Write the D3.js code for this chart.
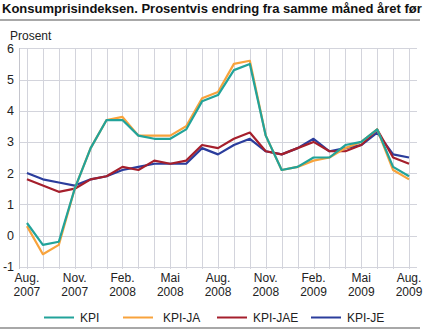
<!DOCTYPE html>
<html>
<head>
<meta charset="utf-8">
<script src="https://cdn.jsdelivr.net/npm/d3@7"></script>
<style>
  html, body { margin: 0; padding: 0; background: #fff; }
  svg { display: block; font-family: "Liberation Sans", Arial, sans-serif; }
</style>
</head>
<body>
<svg id="chart" width="426" height="330"></svg>
<script>
// Monthly 12-month change, Aug 2007 - Aug 2009
var months = ["2007-08", "2007-09", "2007-10", "2007-11", "2007-12",
  "2008-01", "2008-02", "2008-03", "2008-04", "2008-05", "2008-06", "2008-07",
  "2008-08", "2008-09", "2008-10", "2008-11", "2008-12",
  "2009-01", "2009-02", "2009-03", "2009-04", "2009-05", "2009-06", "2009-07", "2009-08"];

var kpi    = [0.4, -0.3, -0.2, 1.5, 2.8, 3.7, 3.7, 3.2, 3.1, 3.1, 3.4, 4.3, 4.5, 5.3, 5.5, 3.2, 2.1, 2.2, 2.5, 2.5, 2.9, 3.0, 3.4, 2.2, 1.9];
var kpiJA  = [0.3, -0.6, -0.3, 1.5, 2.8, 3.7, 3.8, 3.2, 3.2, 3.2, 3.5, 4.4, 4.6, 5.5, 5.6, 3.2, 2.1, 2.2, 2.4, 2.5, 2.8, 3.0, 3.4, 2.1, 1.8];
var kpiJAE = [1.8, 1.6, 1.4, 1.5, 1.8, 1.9, 2.2, 2.1, 2.4, 2.3, 2.4, 2.9, 2.8, 3.1, 3.3, 2.7, 2.6, 2.8, 3.0, 2.7, 2.7, 2.9, 3.4, 2.5, 2.3];
var kpiJE  = [2.0, 1.8, 1.7, 1.6, 1.8, 1.9, 2.1, 2.2, 2.3, 2.3, 2.3, 2.8, 2.6, 2.9, 3.1, 2.7, 2.6, 2.8, 3.1, 2.7, 2.8, 2.9, 3.3, 2.6, 2.5];

var seriesNames = ["KPI", "KPI-JA", "KPI-JAE", "KPI-JE"];
var seriesColors = ["#22a39a", "#f8a33c", "#a51f2c", "#2b3d9c"];
var seriesValues = [kpi, kpiJA, kpiJAE, kpiJE];

var yTicks = [-1, 0, 1, 2, 3, 4, 5, 6];
var xLabelIdx = [0, 3, 6, 9, 12, 15, 18, 21, 24];
var xLabels = [["Aug.", "2007"], ["Nov.", "2007"], ["Feb.", "2008"], ["Mai", "2008"],
  ["Aug.", "2008"], ["Nov.", "2008"], ["Feb.", "2009"], ["Mai", "2009"], ["Aug.", "2009"]];

var svg = d3.select("#chart");
var plotLeft = 19, plotRight = 417, plotTop = 48.3, plotBottom = 266.7;

var x = d3.scalePoint().domain(d3.range(months.length)).range([plotLeft, plotRight]).padding(0.5);
var y = d3.scaleLinear().domain([-1, 6]).range([plotBottom, plotTop]);

// title and rules
svg.append("text")
  .attr("x", 2).attr("y", 13)
  .attr("font-size", "13px").attr("font-weight", "bold").attr("fill", "#111")
  .text("Konsumprisindeksen. Prosentvis endring fra samme måned året før");
svg.append("rect").attr("x", 0).attr("y", 19).attr("width", 420).attr("height", 2).attr("fill", "#a8a8a8");
svg.append("rect").attr("x", 0).attr("y", 327).attr("width", 420).attr("height", 2).attr("fill", "#a8a8a8");

svg.append("text")
  .attr("x", 10).attr("y", 39.5)
  .attr("font-size", "12px").attr("fill", "#222")
  .text("Prosent");

// grid
var grid = svg.append("g").attr("stroke", "#d3d4dc").attr("stroke-width", 1).attr("shape-rendering", "crispEdges");
grid.selectAll("line.h").data(yTicks).enter().append("line")
  .attr("class", "h")
  .attr("x1", plotLeft).attr("x2", plotRight)
  .attr("y1", function(d) { return Math.round(y(d)) + 0.5; })
  .attr("y2", function(d) { return Math.round(y(d)) + 0.5; });
grid.selectAll("line.v").data(d3.range(months.length)).enter().append("line")
  .attr("class", "v")
  .attr("x1", function(d) { return Math.round(x(d)) + 0.5; })
  .attr("x2", function(d) { return Math.round(x(d)) + 0.5; })
  .attr("y1", y(6)).attr("y2", y(-1) + 2);
grid.append("line")
  .attr("x1", plotLeft + 0.5).attr("x2", plotLeft + 0.5)
  .attr("y1", y(6)).attr("y2", y(-1) + 2)
  .attr("stroke", "#c4c5cd");

// y tick labels
svg.append("g").selectAll("text").data(yTicks).enter().append("text")
  .attr("x", 14).attr("y", function(d) { return y(d) + 4.5; })
  .attr("text-anchor", "end")
  .attr("font-size", "12.5px").attr("fill", "#222")
  .text(function(d) { return d; });

// x tick labels, two lines each
var xl = svg.append("g").selectAll("text").data(xLabelIdx).enter().append("text")
  .attr("text-anchor", "middle")
  .attr("font-size", "12px").attr("fill", "#222");
xl.append("tspan")
  .attr("x", function(d) { return x(d); }).attr("y", 282)
  .text(function(d, i) { return xLabels[i][0]; });
xl.append("tspan")
  .attr("x", function(d) { return x(d); }).attr("y", 296)
  .text(function(d, i) { return xLabels[i][1]; });

// series lines (drawn back to front so KPI sits on top)
var line = d3.line()
  .x(function(d, i) { return x(i); })
  .y(function(d) { return y(d); });
var order = [3, 2, 1, 0];
svg.append("g").selectAll("path").data(order).enter().append("path")
  .attr("fill", "none")
  .attr("stroke", function(k) { return seriesColors[k]; })
  .attr("stroke-width", 2.2)
  .attr("stroke-linejoin", "round")
  .attr("d", function(k) { return line(seriesValues[k]); });

// legend
var legendX = [44, 123, 217, 311];
var lg = svg.append("g").selectAll("g").data(seriesNames).enter().append("g")
  .attr("transform", function(d, i) { return "translate(" + legendX[i] + ",317.5)"; });
lg.append("line")
  .attr("x1", 0).attr("x2", 30).attr("y1", 0).attr("y2", 0)
  .attr("stroke", function(d, i) { return seriesColors[i]; })
  .attr("stroke-width", 2);
lg.append("text")
  .attr("x", function(d, i) { return i == 1 ? 40 : 36; })
  .attr("y", 4.5)
  .attr("font-size", "12px").attr("fill", "#222")
  .text(function(d) { return d; });
</script>
</body>
</html>
